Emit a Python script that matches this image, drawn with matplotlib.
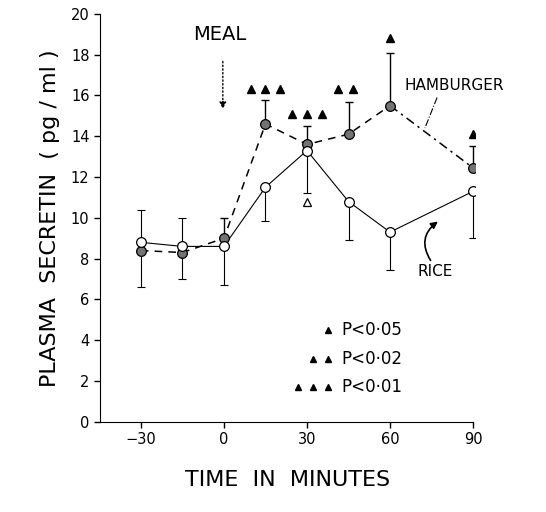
import matplotlib.pyplot as plt
import numpy as np

# Data
minutes = [-30, -15, 0, 15, 30, 45, 60, 90]

rice = [8.8, 8.6, 8.6, 11.5, 13.3, 10.8, 9.3, 11.3]
rice_lo = [2.2, 1.6, 1.9, 1.65, 2.1, 1.9, 1.85, 2.3]
rice_hi = [1.6, 1.4, 0.0, 0.0, 0.0, 0.0, 0.0, 0.0]

burger = [8.4, 8.3, 9.0, 14.6, 13.6, 14.1, 15.5, 12.45]
burger_lo = [0.0, 0.0, 0.0, 0.0, 0.0, 0.0, 0.0, 0.0]
burger_hi = [0.0, 0.0, 1.0, 1.2, 0.9, 1.6, 2.6, 1.05]

# significance marks above hamburger curve
sig_x = [15, 30, 44, 60, 90]
sig_y = [16.3, 15.1, 16.3, 18.8, 14.1]
sig_n = [3, 3, 2, 1, 1]

legend_labels = ["P<0·05", "P<0·02", "P<0·01"]
legend_y = [4.5, 3.1, 1.7]

# Prepare Figure
plt.rcParams["font.family"] = ["DejaVu Sans"]
fig = plt.figure(figsize=(5.46, 5.12), dpi=100)
ax = fig.add_axes([0.183, 0.176, 0.687, 0.797])

# Plots
ax.errorbar(minutes, rice, yerr=[rice_lo, rice_hi], fmt="-", color="black",
            lw=0.8, elinewidth=0.8, capsize=3, capthick=0.8, zorder=2)
ax.plot(minutes, rice, "o", ms=7, mfc="white", mec="black", mew=0.9, zorder=4)

ax.errorbar(minutes, burger, yerr=[burger_lo, burger_hi], fmt="none", color="black",
            elinewidth=1.0, capsize=3, capthick=1.0, zorder=2)
ax.plot(minutes[:7], burger[:7], color="black", lw=1.1, dashes=(5, 4), zorder=2)
ax.plot(minutes[6:], burger[6:], color="black", lw=1.1, dashes=(6, 3, 1.5, 3), zorder=2)
ax.plot(minutes, burger, "o", ms=7, mfc="0.45", mec="black", mew=0.9, zorder=3)

for x, y, n in zip(sig_x, sig_y, sig_n):
    xs = x + (np.arange(n) - (n - 1) / 2) * 5.4
    ax.plot(xs, [y] * n, "^", ms=5.5, color="black", ls="none")
ax.plot([30], [10.8], "^", ms=5.5, mfc="white", mec="black", mew=0.9)

# Legend of significance
for i, (lab, y) in enumerate(zip(legend_labels, legend_y)):
    xs = 37.6 - np.arange(i + 1) * 5.4
    ax.plot(xs, [y] * (i + 1), "^", ms=4, color="black", ls="none")
    ax.text(42.5, y, lab, fontsize=12, va="center", ha="left")

# Annotations
ax.text(-1.4, 19.0, "MEAL", fontsize=14, ha="center", va="center")
ax.annotate("", xy=(-0.4, 15.2), xytext=(-0.4, 17.8),
            arrowprops=dict(arrowstyle="-|>", ls=":", lw=1.0, color="black"))
ax.text(65.4, 16.5, "HAMBURGER", fontsize=11, ha="left", va="center", clip_on=False)
ax.plot([77.0, 72.6], [15.9, 14.4], color="black", lw=0.8, ls="-.")
ax.text(70.1, 7.35, "RICE", fontsize=11, ha="left", va="center")
ax.annotate("", xy=(78.1, 9.9), xytext=(75.2, 7.8),
            arrowprops=dict(arrowstyle="-|>", lw=1.2, color="black",
                            connectionstyle="arc3,rad=-0.5"))

# Axes
ax.set_xlim(-44.8, 90.7)
ax.set_ylim(0, 20)
ax.set_xticks([-30, 0, 30, 60, 90])
ax.set_yticks(range(0, 21, 2))
ax.spines[["top", "right"]].set_visible(False)
ax.spines["left"].set_bounds(0, 20)
ax.spines["bottom"].set_bounds(-44.8, 90)
ax.tick_params(labelsize=10.5, length=4, width=1)
ax.set_xlabel("TIME  IN  MINUTES", fontsize=16, labelpad=16)
ax.set_ylabel("PLASMA  SECRETIN  ( pg / ml )", fontsize=16, labelpad=8)

# Save Figure
fig.savefig("out.png", dpi=100)
